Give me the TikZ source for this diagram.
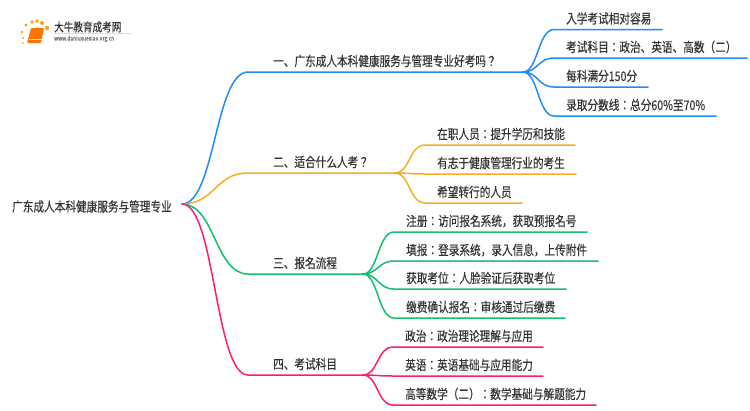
\documentclass[tikz,border=0pt]{standalone}
\usepackage{fontspec}
\setmainfont[FakeStretch=0.8,FakeBold=0.25]{Noto Sans CJK JP}
\tikzset{
    txt/.style={anchor=base west,inner sep=0pt,text=black!80,font=\fontsize{13.3}{14}\selectfont},
    wire/.style={line width=1.5pt,line cap=round},
}
\definecolor{bluewire}{HTML}{1E8CFA}
\definecolor{orangewire}{HTML}{F4AE25}
\definecolor{greenwire}{HTML}{14BF70}
\definecolor{pinkwire}{HTML}{FB1C78}
\begin{document}
\begin{tikzpicture}[x=1pt,y=-1pt]
    \useasboundingbox (0,0) rectangle (750,410);
    % logo
    \foreach \a/\b/\r in {23/38/1.2,22/32/1.4,26/25/1.6,32/22/1.9,37/21/1.9,42/23/2,47/28/2.2,23/43/0.9}{
        \fill[orange!70!yellow] (\a,\b) circle (\r);
    }
    \fill[orange!90!red,rounded corners=1pt] (31,28)--(44,28)--(41,43)--(27,43)--cycle;
    \draw[yellow!60,line width=0.6pt] (29,39.5)--(41.5,39.5);
    \node[anchor=base west,inner sep=0pt,text=black!80,font=\fontsize{12}{12}\selectfont] (logoname) at (54,31.5) {大牛教育成考网};
    \node[anchor=base west,inner sep=0pt,text=black!55,font=\fontsize{6.2}{7}\selectfont] (logourl) at (54,40.5) {www.daniuxuexiao.org.cn};
    \draw[black!12,line width=0.5pt] (54,33.5)--(132,33.5);
    % root
    \node[txt] (root) at (12,211.5) {广东成人本科健康服务与管理专业};
    \coordinate (hub) at (182,204);
    % branches
    \foreach \name/\y/\xjoin/\col/\label in {
        one/72/523/bluewire/一、广东成人本科健康服务与管理专业好考吗？,
        two/173/395/orangewire/二、适合什么人考？,
        three/274/363/greenwire/三、报名流程,
        four/375/363/pinkwire/四、考试科目}{
        \coordinate (\name) at (248,\y);
        \coordinate (\name join) at (\xjoin,\y);
        \node[txt] (\name text) at (273,\y-6) {\label};
        \draw[wire,\col] (hub) .. controls (215,204) and (215,\y) .. (\name) -- (\name join);
    }
    % leaves
    \foreach \from/\name/\y/\xa/\xb/\col/\label in {
        one/a/29.5/566/662/bluewire/入学考试相对容易,
        one/b/58/566/747/bluewire/考试科目：政治、英语、高数（二）,
        one/c/87/566/648/bluewire/每科满分150分,
        one/d/116/566/716/bluewire/录取分数线：总分60\%至70\%,
        two/e/145/437/575/orangewire/在职人员：提升学历和技能,
        two/f/174/437/576/orangewire/有志于健康管理行业的考生,
        two/g/203/437/522/orangewire/希望转行的人员,
        three/h/232/406/587/greenwire/注册：访问报名系统，获取预报名号,
        three/i/261/406/598/greenwire/填报：登录系统，录入信息，上传附件,
        three/j/289/406/566/greenwire/获取考位：人脸验证后获取考位,
        three/k/318/406/565/greenwire/缴费确认报名：审核通过后缴费,
        four/l/347/405/543/pinkwire/政治：政治理论理解与应用,
        four/m/376/405/543/pinkwire/英语：英语基础与应用能力,
        four/n/405/405/596/pinkwire/高等数学（二）：数学基础与解题能力}{
        \node[txt] (\name) at (\xa,\y-6) {\label};
        \coordinate (\name end) at (\xb,\y);
        \draw[wire,\col] (\from join) .. controls ([xshift=15pt]\from join) and (\xa-28,\y) .. (\xa-12,\y) -- (\name end);
    }
\end{tikzpicture}
\end{document}
